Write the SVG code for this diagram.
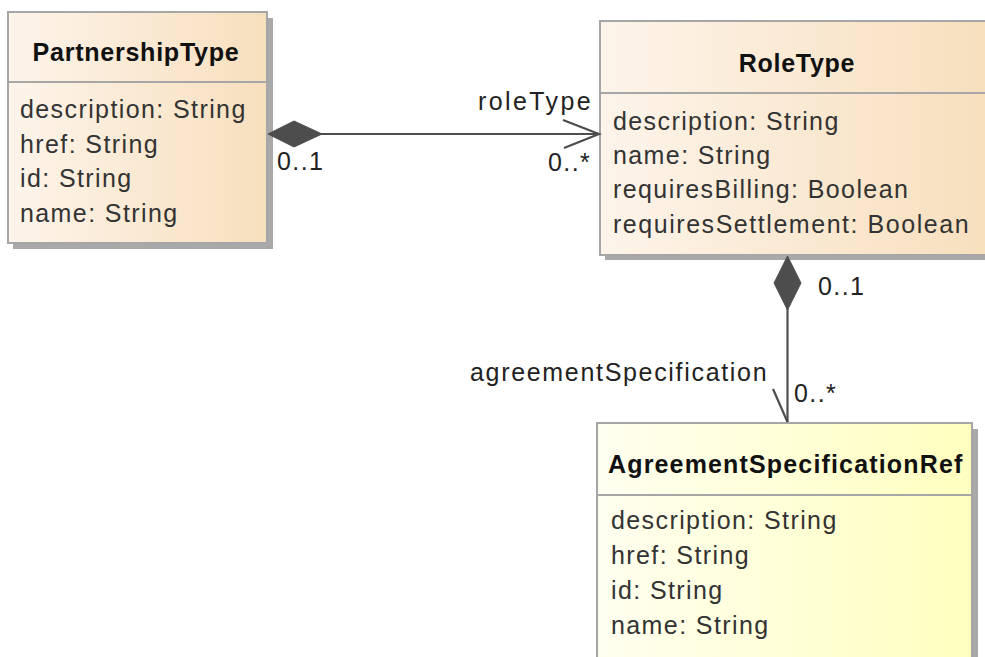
<svg xmlns="http://www.w3.org/2000/svg" width="985" height="657" viewBox="0 0 985 657">
<style>
.box{stroke:#a6a6a6;stroke-width:2}
.shadow{fill:#a9a9a9}
.sep{stroke:#a6a6a6;stroke-width:2}
.title{font-family:"Liberation Sans",Arial,sans-serif;font-weight:bold;font-size:25px;letter-spacing:0.7px;fill:#111;text-anchor:middle}
.attr{font-family:"Liberation Sans",Arial,sans-serif;font-size:25px;letter-spacing:1.4px;fill:#333}
.lbl{font-family:"Liberation Sans",Arial,sans-serif;font-size:25px;letter-spacing:1.4px;fill:#222}
.conn{stroke:#4d4d4d;stroke-width:2.2;fill:none}
.dia{fill:#4d4d4d;stroke:#4d4d4d;stroke-width:1}
</style>
<defs>
<linearGradient id="gOrange" x1="0" y1="0" x2="1" y2="0">
<stop offset="0" stop-color="#fdf4ea"/>
<stop offset="1" stop-color="#f7dfbd"/>
</linearGradient>
<linearGradient id="gYellow" x1="0" y1="0" x2="1" y2="0">
<stop offset="0" stop-color="#fffff0"/>
<stop offset="1" stop-color="#ffffbf"/>
</linearGradient>
</defs>
<rect width="985" height="657" fill="#ffffff"/>

<g id="PartnershipType">
<rect class="shadow" x="13" y="18" width="260" height="231"/>
<rect class="box" x="8" y="12" width="259" height="231" fill="url(#gOrange)"/>
<line class="sep" x1="8" y1="82" x2="267" y2="82"/>
<text class="title" x="136" y="61" textLength="207" lengthAdjust="spacingAndGlyphs">PartnershipType</text>
<text class="attr" x="20" y="118">description: String</text>
<text class="attr" x="20" y="153">href: String</text>
<text class="attr" x="20" y="187">id: String</text>
<text class="attr" x="20" y="222">name: String</text>
</g>

<g id="RoleType">
<rect class="shadow" x="605" y="27" width="385" height="233"/>
<rect class="box" x="600" y="21" width="390" height="234" fill="url(#gOrange)"/>
<line class="sep" x1="600" y1="93" x2="990" y2="93"/>
<text class="title" x="797" y="72">RoleType</text>
<text class="attr" x="613" y="130">description: String</text>
<text class="attr" x="613" y="164">name: String</text>
<text class="attr" x="613" y="198">requiresBilling: Boolean</text>
<text class="attr" x="613" y="233" textLength="357">requiresSettlement: Boolean</text>
</g>

<g id="AgreementSpecificationRef">
<rect class="shadow" x="603" y="429" width="375" height="235"/>
<rect class="box" x="597" y="423" width="375" height="240" fill="url(#gYellow)"/>
<line class="sep" x1="597" y1="495" x2="972" y2="495"/>
<text class="title" x="785.5" y="473" textLength="355">AgreementSpecificationRef</text>
<text class="attr" x="611" y="529">description: String</text>
<text class="attr" x="611" y="564">href: String</text>
<text class="attr" x="611" y="599">id: String</text>
<text class="attr" x="611" y="634">name: String</text>
</g>

<g id="connectors">
<g id="c1">
<line class="conn" x1="320" y1="134" x2="599" y2="134"/>
<polygon class="dia" points="268,134 294,121 322,134 294,147"/>
<polyline class="conn" points="563,120 599,134 564,148"/>
<text class="lbl" x="478" y="110" textLength="114">roleType</text>
<text class="lbl" x="277" y="170">0..1</text>
<text class="lbl" x="548" y="171">0..*</text>
</g>
<g id="c2">
<line class="conn" x1="787.5" y1="308" x2="787.5" y2="422"/>
<polygon class="dia" points="787.5,256 801,283 787.5,310 774,283"/>
<polyline class="conn" points="773,389 787.5,422"/>
<text class="lbl" x="818" y="295">0..1</text>
<text class="lbl" x="470" y="381" textLength="298">agreementSpecification</text>
<text class="lbl" x="794" y="402">0..*</text>
</g>
</g>
</svg>
